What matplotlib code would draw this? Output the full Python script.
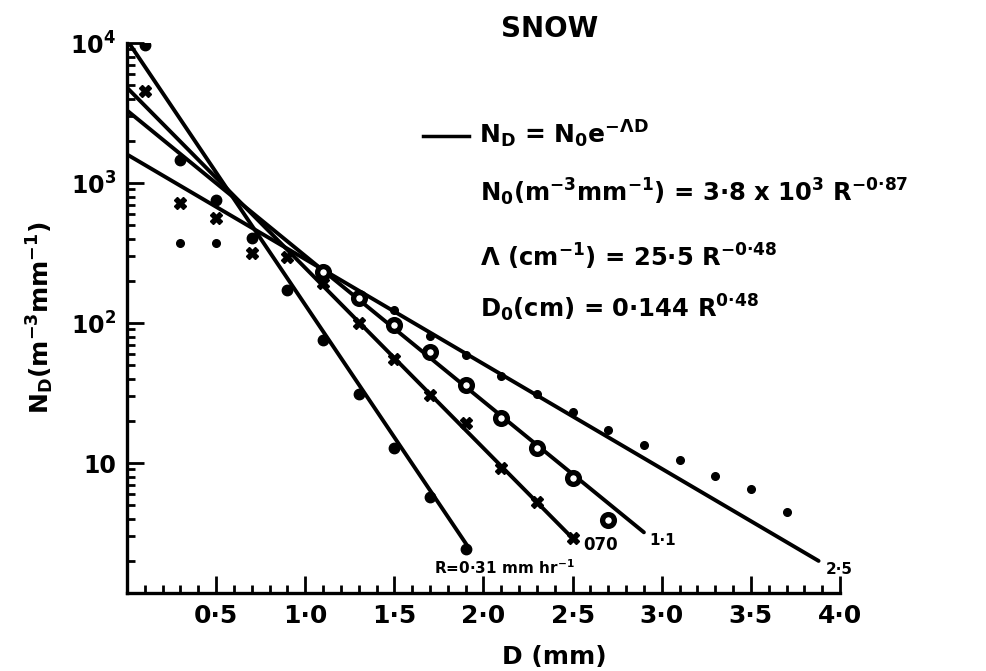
import matplotlib
matplotlib.use("Agg")
import matplotlib.pyplot as plt
from matplotlib.lines import Line2D
from matplotlib.ticker import FixedLocator, LogLocator, NullFormatter, MultipleLocator

plt.rcParams['font.family'] = ['DejaVu Sans']
plt.rcParams['font.weight'] = 'bold'
plt.rcParams['mathtext.default'] = 'bf'
plt.rcParams['mathtext.fontset'] = 'dejavusans'

# ---- data ----
rain_rates = ["0·31", "070", "1·1", "2·5"]

d_031 = [0.1, 0.3, 0.5, 0.7, 0.9, 1.1, 1.3, 1.5, 1.7, 1.9]
n_031 = [9600, 1450, 760, 404, 172, 76, 31, 12.9, 5.7, 2.45]

d_070 = [0.1, 0.3, 0.5, 0.7, 0.9, 1.1, 1.3, 1.5, 1.7, 1.9, 2.1, 2.3, 2.5]
n_070 = [4560, 720, 563, 316, 296, 193, 100, 55, 30.6, 19.3, 9.2, 5.3, 2.9]

d_11 = [1.1, 1.3, 1.5, 1.7, 1.9, 2.1, 2.3, 2.5, 2.7]
n_11 = [230, 151, 97, 62, 36, 21, 12.8, 7.8, 3.9]

d_25 = [0.3, 0.5, 1.5, 1.7, 1.9, 2.1, 2.3, 2.5, 2.7, 2.9, 3.1, 3.3, 3.5, 3.7]
n_25 = [373, 373, 124, 81, 59, 42, 31, 23, 17.2, 13.5, 10.6, 8.1, 6.5, 4.5]

# fitted exponential lines (straight on log axis): endpoints
line_start_d = [0.0, 0.0, 0.0, 0.0]
line_start_n = [10500, 4800, 3300, 1600]
line_end_d = [1.92, 2.5, 2.9, 3.88]
line_end_n = [2.45, 2.9, 3.2, 2.0]

x_ticks = [0.5, 1.0, 1.5, 2.0, 2.5, 3.0, 3.5, 4.0]
x_ticklabels = ["0·5", "1·0", "1·5", "2·0", "2·5", "3·0", "3·5", "4·0"]
y_ticks = [10, 100, 1000, 10000]
y_ticklabels = ["10", "10$^2$", "10$^3$", "10$^4$"]

# ---- figure ----
W, H = 986, 671
fig = plt.figure(figsize=(W / 100, H / 100), dpi=100)
ax = fig.add_axes([127 / W, 1 - 593 / H, (840 - 127) / W, (593 - 43) / H])
ax.set_yscale('log')
ax.set_xlim(0, 4.0)
ax.set_ylim(1.18, 1.0e4)

for x0, y0, x1, y1 in zip(line_start_d, line_start_n, line_end_d, line_end_n):
    ax.plot([x0, x1], [y0, y1], color='black', lw=2.8, solid_capstyle='round')

ax.plot(d_031, n_031, 'o', color='black', ms=7.5)
ax.plot(d_070, n_070, 'X', color='black', ms=9)
ax.plot(d_11, n_11, 'o', mfc='white', mec='black', mew=3.8, ms=8.5)
ax.plot(d_25, n_25, 'o', color='black', ms=5.5)

# line-end labels
ax.text(1.72, 1.78, "R=0·31 mm hr$^{-1}$", fontsize=11, va='center', ha='left')
ax.text(2.56, 2.6, rain_rates[1], fontsize=12, va='center', ha='left')
ax.text(2.93, 2.8, rain_rates[2], fontsize=11, va='center', ha='left')
ax.text(3.92, 1.75, rain_rates[3], fontsize=11, va='center', ha='left')

# axes styling
for s in ['top', 'right']:
    ax.spines[s].set_visible(False)
for s in ['left', 'bottom']:
    ax.spines[s].set_linewidth(2.4)

ax.xaxis.set_major_locator(FixedLocator(x_ticks))
ax.set_xticklabels(x_ticklabels, fontsize=18, fontweight='bold')
ax.xaxis.set_minor_locator(MultipleLocator(0.1))
ax.yaxis.set_major_locator(FixedLocator(y_ticks))
ax.set_yticklabels(y_ticklabels, fontsize=17, fontweight='bold')
ax.yaxis.set_minor_locator(LogLocator(base=10, subs=range(2, 10)))
ax.yaxis.set_minor_formatter(NullFormatter())
ax.tick_params(which='major', direction='in', length=12, width=2, pad=8)
ax.tick_params(which='minor', direction='in', length=6, width=2)

ax.set_xlabel("D (mm)", fontsize=18, fontweight='bold')
ax.xaxis.set_label_coords(2.4 / 4.0, -0.095)
ax.set_ylabel("N$_D$(m$^{-3}$mm$^{-1}$)", fontsize=18, fontweight='bold', labelpad=10)

# title and equations
fig.text(550 / W, 1 - 29 / H, "SNOW", fontsize=20, fontweight='bold', ha='center', va='center')
fig.add_artist(Line2D([423 / W, 469 / W], [1 - 136 / H, 1 - 136 / H], color='black', lw=2.5))
fig.text(479 / W, 1 - 134 / H, r"N$_D$ = N$_0$e$^{-\Lambda D}$", fontsize=18, va='center', ha='left')
fig.text(480 / W, 1 - 192 / H, "N$_0$(m$^{-3}$mm$^{-1}$) = 3·8 x 10$^3$ R$^{-0·87}$", fontsize=17.5, va='center', ha='left')
fig.text(480 / W, 1 - 257 / H, "Λ (cm$^{-1}$) = 25·5 R$^{-0·48}$", fontsize=17.5, va='center', ha='left')
fig.text(480 / W, 1 - 308 / H, "D$_0$(cm) = 0·144 R$^{0·48}$", fontsize=17.5, va='center', ha='left')

fig.savefig("out.png", dpi=100)
